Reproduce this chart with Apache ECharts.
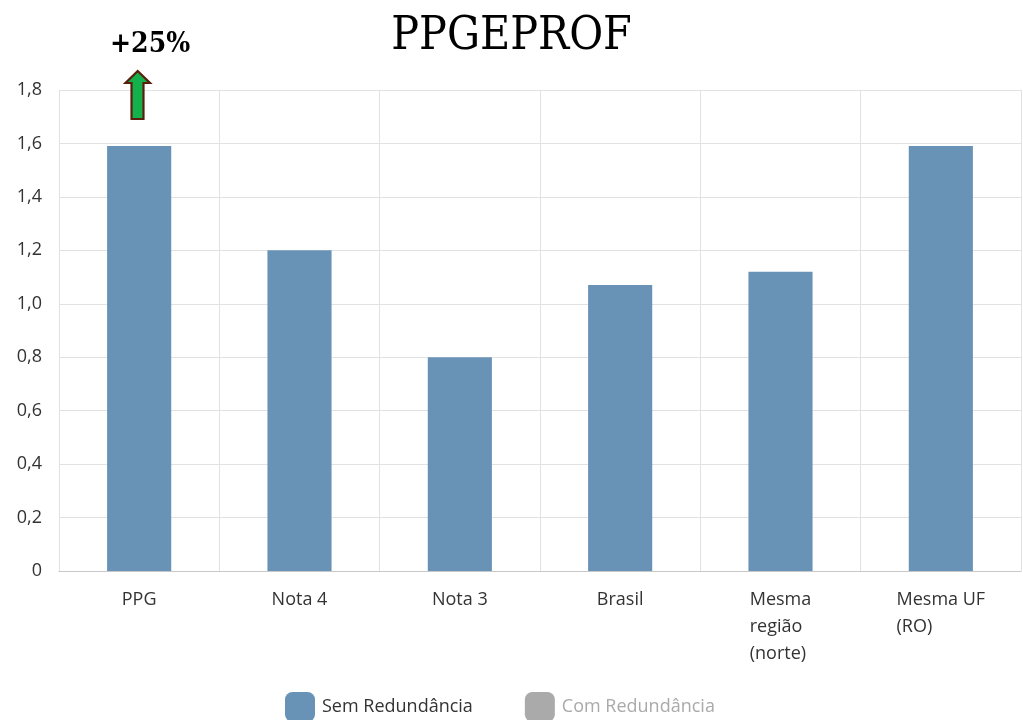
<!DOCTYPE html>
<html>
<head>
<meta charset="utf-8">
<script src="https://cdn.jsdelivr.net/npm/echarts@6/dist/echarts.min.js"></script>
<style>html,body{margin:0;padding:0;background:#fff}#c{width:1023px;height:720px}</style>
</head>
<body>
<div id="c"></div>
<script>
const categories = ['PPG', 'Nota 4', 'Nota 3', 'Brasil', 'Mesma\nregião\n(norte)', 'Mesma UF\n(RO)'];
const semRedundancia = [1.59, 1.2, 0.8, 1.07, 1.12, 1.59];
const comRedundancia = [];
const seriesNames = ['Sem Redundância', 'Com Redundância'];
const titleText = 'PPGEPROF';
const annotationText = '+25%';

const chart = echarts.init(document.getElementById('c'), null, {renderer: 'canvas'});
const txt = '#333';
chart.setOption({
  animation: false,
  backgroundColor: '#fff',
  title: {
    text: titleText,
    left: 'center', top: 9,
    textStyle: {fontFamily: '"DejaVu Serif Condensed", "DejaVu Serif", serif', fontWeight: 'normal', fontSize: 46, color: '#000'}
  },
  legend: {
    data: seriesNames,
    left: 285, top: 692, padding: 0,
    itemWidth: 30, itemHeight: 30, itemGap: 52,
    icon: 'roundRect',
    selected: {'Com Redundância': false},
    inactiveColor: '#aaa',
    textStyle: {fontFamily: '"Open Sans", sans-serif', fontSize: 18, color: txt, padding: [0, 0, 0, 2]}
  },
  grid: {left: 59, right: 2, top: 90, bottom: 149, containLabel: false},
  xAxis: {
    type: 'category',
    data: categories,
    boundaryGap: true,
    axisLine: {lineStyle: {color: '#c8c8c8'}},
    axisTick: {show: false},
    splitLine: {show: true, interval: 0, lineStyle: {color: '#e2e2e2'}},
    axisLabel: {
      interval: 0, margin: 15,
      formatter: v => v.split('\n').map(s => '{a|' + s + '}').join('\n'),
      rich: {a: {align: 'left', fontFamily: '"Open Sans", sans-serif', fontSize: 18, lineHeight: 27, color: txt}}
    }
  },
  yAxis: {
    type: 'value', min: 0, max: 1.8, interval: 0.2,
    axisLine: {show: false}, axisTick: {show: false},
    splitLine: {lineStyle: {color: '#e2e2e2'}},
    axisLabel: {
      margin: 17, fontFamily: '"Open Sans", sans-serif', fontSize: 18, color: txt,
      formatter: v => v === 0 ? '0' : v.toFixed(1).replace('.', ',')
    }
  },
  series: [
    {name: seriesNames[0], type: 'bar', data: semRedundancia, barWidth: '40%', itemStyle: {color: '#6893b7'}},
    {name: seriesNames[1], type: 'bar', data: comRedundancia, barWidth: '40%', itemStyle: {color: '#aaaaaa'}}
  ],
  graphic: [
    {type: 'text', x: 110, y: 45, style: {text: annotationText, fontFamily: '"DejaVu Serif Condensed", "DejaVu Serif", serif', fontWeight: 'bold', fontSize: 28, fill: '#000', verticalAlign: 'middle'}},
    {type: 'polygon', shape: {points: [[137.7, 71], [150, 83], [143.5, 83], [143.5, 119], [131.5, 119], [131.5, 83], [125.5, 83]]},
     style: {fill: '#14b04c', stroke: '#5a1e0c', lineWidth: 2.2}, z: 100}
  ]
});
</script>
</body>
</html>
